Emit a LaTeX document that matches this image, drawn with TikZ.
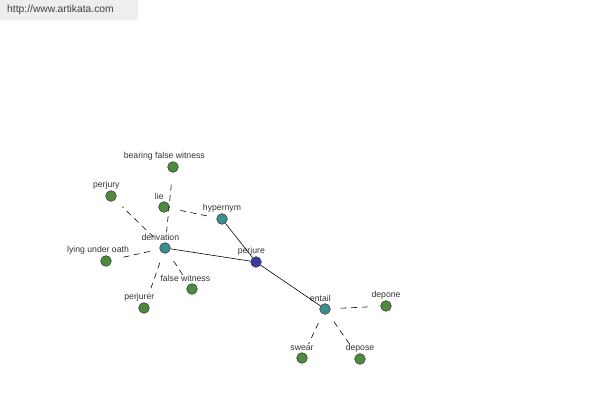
\documentclass[tikz,border=0pt]{standalone}
\usepackage{fontspec}
\setmainfont{Liberation Sans}
\usetikzlibrary{arrows.meta}
\definecolor{leafgreen}{RGB}{76,138,62}
\definecolor{relteal}{RGB}{58,142,142}
\definecolor{rootblue}{RGB}{58,58,160}
\definecolor{bannergray}{RGB}{238,238,238}
\tikzset{
  word/.style={circle,draw=black!75,line width=0.5pt,minimum size=0.32cm,inner sep=0pt},
  leaf/.style={word,fill=leafgreen},
  rel/.style={word,fill=relteal},
  root/.style={word,fill=rootblue},
  lbl/.style={font=\fontsize{7.4}{8}\selectfont,text=black!80,inner sep=1pt,label distance=0pt,xshift=-0.14cm},
  link/.style={line width=0.5pt},
  weak/.style={line width=0.5pt,dash pattern=on 5pt off 4pt,shorten <=0.3cm,shorten >=0.3cm}
}

\begin{document}
\begin{tikzpicture}[x=0.03cm,y=-0.03cm]
\useasboundingbox (0,0) rectangle (600,400);
\fill[bannergray] (0,0) rectangle (138,20);
\node[anchor=west,font=\fontsize{8.8}{10}\selectfont,text=black!75,inner sep=0pt] (site) at (7,10) {http://www.artikata.com};

\node[root,label={[lbl]above:perjure}] (perjure) at (256,262) {};
\node[rel,label={[lbl]above:derivation}] (derivation) at (165,248) {};
\node[rel,label={[lbl,xshift=0.14cm]above:hypernym}] (hypernym) at (222,219) {};
\node[rel,label={[lbl]above:entail}] (entail) at (325,309) {};

\node[leaf,label={[lbl,xshift=-0.12cm]above:bearing false witness}] (bfw) at (173,167) {};
\node[leaf,label={[lbl]above:perjury}] (perjury) at (111,196) {};
\node[leaf,label={[lbl]above:lie}] (lie) at (164,207) {};
\node[leaf,label={[lbl,xshift=-0.1cm]above:lying under oath}] (luo) at (106,261) {};
\node[leaf,label={[lbl,xshift=-0.06cm]above:false witness}] (fwitness) at (192,289) {};
\node[leaf,label={[lbl]above:perjurer}] (perjurer) at (144,308) {};
\node[leaf,label={[lbl,xshift=0.14cm]above:depone}] (depone) at (386,306) {};
\node[leaf,label={[lbl,xshift=0.14cm]above:swear}] (swear) at (302,358) {};
\node[leaf,label={[lbl,xshift=0.14cm]above:depose}] (depose) at (360,359) {};

\draw[link] (hypernym)--(perjure)
  (derivation)--(perjure)
  (perjure)--(entail);
\draw[weak] (derivation)--(bfw);
\draw[weak] (derivation)--(perjury);
\draw[weak] (derivation)--(luo);
\draw[weak] (derivation)--(fwitness);
\draw[weak] (derivation)--(perjurer);
\draw[weak] (hypernym)--(lie);
\draw[weak] (entail)--(depone);
\draw[weak] (entail)--(swear);
\draw[weak] (entail)--(depose);
\end{tikzpicture}
\end{document}
